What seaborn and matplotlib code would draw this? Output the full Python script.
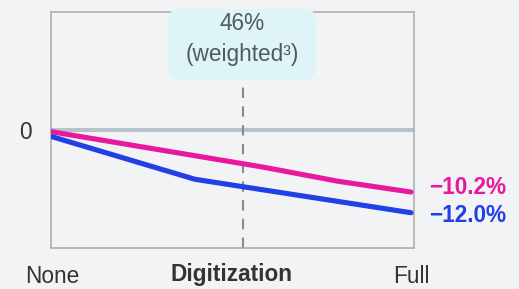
import matplotlib
matplotlib.use("Agg")
import matplotlib.pyplot as plt
import matplotlib.transforms as mtransforms
from matplotlib.patches import FancyBboxPatch
import seaborn as sns
import pandas as pd

# Data (x: 0 = None, 1 = Full digitization; y: % change)
pink_x = [0.0, 0.588, 0.794, 1.0]
pink_y = [-0.3, -6.1, -8.4, -10.2]
blue_x = [0.0, 0.398, 1.0]
blue_y = [-1.1, -8.1, -13.6]
series_names = ["pink", "blue"]
end_labels = ["\u221210.2%", "\u221212.0%"]
label_y = [-9.5, -14.0]
marker_x = 0.532
box_lines = ["46%", "(weighted\u00b3)"]
x_tick_labels = ["None", "Full"]
x_title = "Digitization"

PINK = "#e8199e"
BLUE = "#2140e6"
BG = "#f2f3f5"
FS = 16.3

sns.set_theme(style="white")
plt.rcParams["font.family"] = ["Liberation Sans", "DejaVu Sans"]

df = pd.concat([
    pd.DataFrame({"x": pink_x, "y": pink_y, "s": series_names[0]}),
    pd.DataFrame({"x": blue_x, "y": blue_y, "s": series_names[1]}),
])

fig = plt.figure(figsize=(5.19, 2.89), dpi=100, facecolor=BG)
ax = fig.add_axes([51 / 519, (289 - 248) / 289, 363 / 519, 236 / 289])
ax.set_facecolor(BG)

ax.axhline(0, color="#b7c3cb", lw=3.0, zorder=1)
ax.axvline(marker_x, ymin=0, ymax=0.712, color="#8a8a8a", lw=1.5,
           dashes=(5, 4), zorder=1)

sns.lineplot(data=df, x="x", y="y", hue="s", palette=[PINK, BLUE],
             lw=3.7, legend=False, ax=ax, zorder=3)

ax.set_xlim(-1 / 359, 1 + 3 / 359)
ax.set_ylim(-19.4, 19.4)
ax.set_xlabel("")
ax.set_ylabel("")
ax.set_yticks([0])
ax.set_yticklabels(["0"], fontsize=FS, color="#333333")
ax.set_xticks([0, 1])
ax.set_xticklabels(x_tick_labels, fontsize=FS, color="#333333")
ax.tick_params(axis="y", length=0, pad=14)
ax.tick_params(axis="x", length=0, pad=12)
for sp in ax.spines.values():
    sp.set_color("#a9a9a9")
    sp.set_linewidth(1.1)

fig.text(232 / 519, 1 - 275 / 289, x_title, ha="center", va="center",
         fontsize=FS, fontweight="bold", color="#333333")

for lab, yv, c in zip(end_labels, label_y, [PINK, BLUE]):
    ax.text(1.041, yv, lab, transform=ax.get_yaxis_transform(),
            ha="left", va="center", fontsize=FS, fontweight="bold", color=c)

box = FancyBboxPatch((168, 289 - 80), 148, 71,
                     boxstyle="round,pad=0,rounding_size=12",
                     transform=mtransforms.IdentityTransform(),
                     facecolor="#dff4f6", edgecolor="none", zorder=5,
                     clip_on=False)
fig.patches.append(box)
fig.text(242 / 519, 1 - 23 / 289, box_lines[0], ha="center", va="center",
         fontsize=FS, color="#515a60", zorder=6)
fig.text(242 / 519, 1 - 54 / 289, box_lines[1], ha="center", va="center",
         fontsize=FS, color="#515a60", zorder=6)

fig.savefig("out.png", dpi=100, facecolor=BG)
